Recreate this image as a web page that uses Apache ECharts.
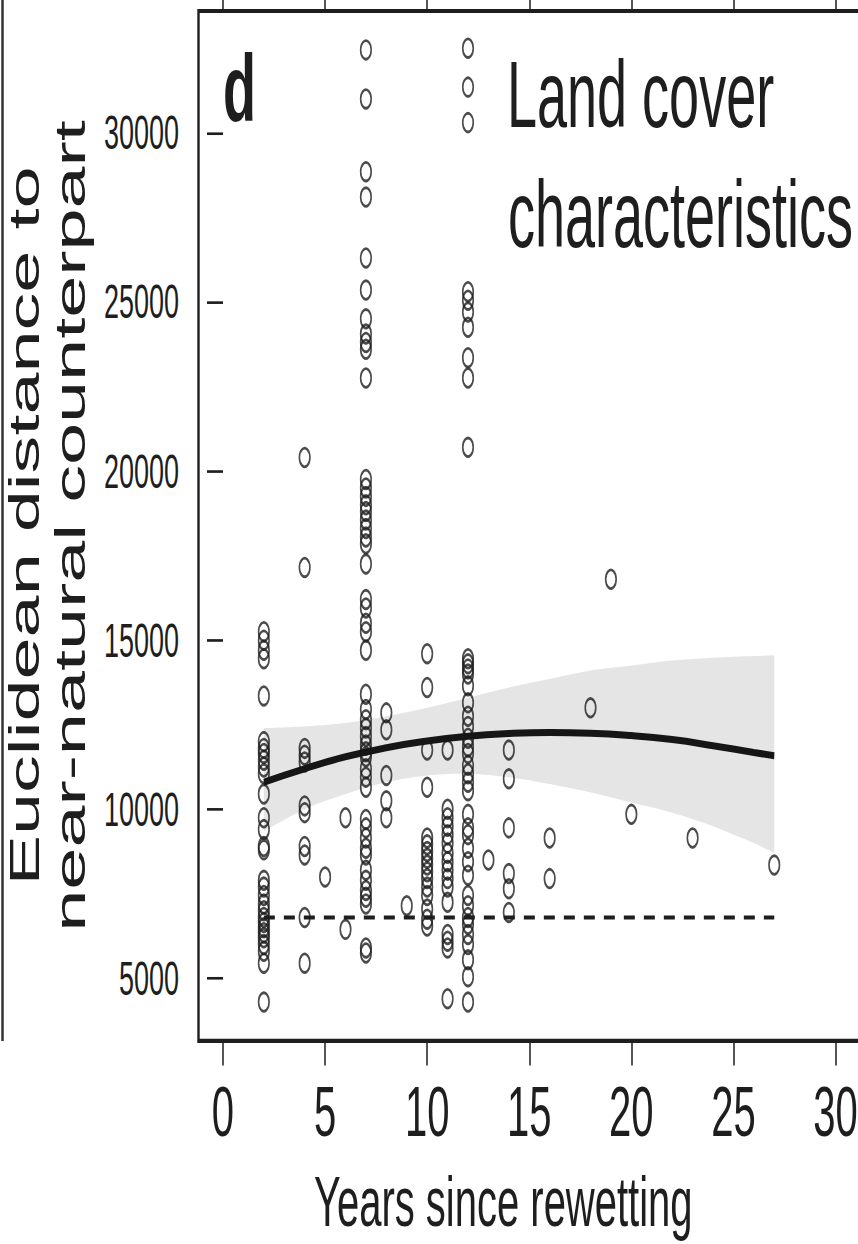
<!DOCTYPE html>
<html><head><meta charset="utf-8">
<script src="https://cdn.jsdelivr.net/npm/echarts@6/dist/echarts.min.js"></script>
<style>
html,body{margin:0;padding:0;background:#fff;overflow:hidden;width:858px;height:1244px;}
#wrap{width:858px;height:1244px;overflow:hidden;position:relative;background:#fff;}
#chart{width:858px;height:707px;transform:scaleY(1.7595);transform-origin:0 0;position:absolute;left:0;top:0;}
</style></head><body>
<div id="wrap"><div id="chart"></div></div>
<script>
// ---------- data ----------
const xTicks = [0, 5, 10, 15, 20, 25, 30];
const yTicks = [5000, 10000, 15000, 20000, 25000, 30000];

const pointYears = [2, 4, 5, 6, 7, 8, 9, 10, 11, 12, 13, 14, 16, 18, 19, 20, 23, 27];
const pointValues = [
  [15250, 15000, 14700, 14450, 13350, 12000, 11800, 11650, 11450, 11250, 11050, 10450, 9750, 9400, 8900, 8800, 7900, 7700, 7450, 7200, 7000, 6800, 6650, 6500, 6350, 6200, 6000, 5800, 5450, 4300],
  [20400, 17150, 11800, 11600, 11400, 10100, 9900, 8900, 8650, 6800, 5450],
  [8000],
  [9750, 6450],
  [32450, 31000, 28850, 28100, 26300, 25350, 24500, 24050, 23800, 23600, 22750, 19750, 19500, 19250, 19000, 18800, 18550, 18300, 18050, 17850, 17250, 16200, 15950, 15500, 15250, 14700, 13400, 12950, 12650, 12400, 12150, 11900, 11700, 11550, 11200, 10950, 10650, 9700, 9450, 9150, 8850, 8650, 8200, 7900, 7600, 7400, 7200, 5900, 5750],
  [12850, 12350, 11000, 10250, 9750],
  [7150],
  [14600, 13600, 11750, 10650, 9150, 8950, 8750, 8550, 8350, 8150, 7950, 7700, 7450, 7050, 6750, 6550],
  [11750, 10000, 9750, 9500, 9250, 9000, 8700, 8450, 8200, 7950, 7700, 7250, 6300, 6100, 5900, 4400],
  [32500, 31350, 30300, 25300, 25050, 24700, 24250, 23350, 22750, 20700, 14450, 14300, 14150, 14000, 13650, 13150, 12750, 12450, 12100, 11850, 11650, 11300, 11050, 10800, 10550, 9850, 9450, 9250, 8850, 8450, 8050, 7450, 7150, 6800, 6600, 6300, 6000, 5550, 5050, 4300],
  [8500],
  [11750, 10900, 9450, 8100, 7650, 6950],
  [9150, 7950],
  [13000],
  [16800],
  [9850],
  [9150],
  [8350]
];

const fitYears  = [2, 4, 6, 8, 10, 12, 14, 16, 18, 20, 22, 24, 26, 27];
const fitValues = [10800, 11200, 11550, 11820, 12020, 12160, 12240, 12270, 12250, 12180, 12060, 11880, 11680, 11580];
const bandUpper = [12400, 12450, 12550, 12750, 13000, 13300, 13600, 13850, 14100, 14250, 14400, 14480, 14530, 14550];
const bandLower = [9350, 10000, 10450, 10800, 11000, 11050, 10950, 10750, 10500, 10200, 9900, 9500, 9000, 8700];

const refYears = [2, 27];
const refValue = 6800;

const xName = 'Years since rewetting';
const yName = 'Euclidean distance to\nnear-natural counterpart';
const panelLetter = 'd';
const panelTitle = ['Land cover', 'characteristics'];

// ---------- build ----------
const S = 1244 / 707;             // vertical stretch of the page
const py = v => v / S;            // reference pixel y -> chart pixel y
const FONT = '"Liberation Sans", Arial, sans-serif';
const INK = '#1e1e1e';

const scatterData = [];
pointYears.forEach((yr, i) => pointValues[i].forEach(v => scatterData.push([yr, v])));

const bandData = fitYears.map((x, i) => [x, bandLower[i], bandUpper[i]]);

// smooth (Catmull-Rom) path through screen points, continuing an open path
function smoothSeg(pts) {
  let d = '';
  for (let i = 0; i < pts.length - 1; i++) {
    const p0 = pts[Math.max(i - 1, 0)], p1 = pts[i], p2 = pts[i + 1], p3 = pts[Math.min(i + 2, pts.length - 1)];
    const c1 = [p1[0] + (p2[0] - p0[0]) / 6, p1[1] + (p2[1] - p0[1]) / 6];
    const c2 = [p2[0] - (p3[0] - p1[0]) / 6, p2[1] - (p3[1] - p1[1]) / 6];
    d += ' C' + c1[0] + ' ' + c1[1] + ' ' + c2[0] + ' ' + c2[1] + ' ' + p2[0] + ' ' + p2[1];
  }
  return d;
}

const chart = echarts.init(document.getElementById('chart'), null, {renderer: 'svg', width: 858, height: 707});

chart.setOption({
  animation: false,
  backgroundColor: '#fff',
  grid: {
    left: 198.5, top: py(11), width: 661.5, height: py(1041) - py(11),
    outerBoundsMode: 'none', containLabel: false,
    show: true, borderColor: INK, borderWidth: 2.4, backgroundColor: 'transparent'
  },
  xAxis: [{
    type: 'value', min: -1.2, max: 31.2, position: 'bottom',
    axisLine: {show: false}, splitLine: {show: false},
    axisTick: {show: true, customValues: xTicks, length: 14, lineStyle: {color: INK, width: 1.5}},
    axisLabel: {customValues: xTicks, fontSize: 40, color: INK, fontFamily: FONT, margin: 20},
    name: xName, nameLocation: 'middle', nameGap: 71,
    nameTextStyle: {fontSize: 40, color: INK, fontFamily: FONT, padding: [0, 52, 0, 0]}
  }, {
    type: 'value', min: -1.2, max: 31.2, position: 'top',
    axisLine: {show: false}, splitLine: {show: false},
    axisTick: {show: true, customValues: xTicks, length: 8, lineStyle: {color: INK, width: 1.5}},
    axisLabel: {show: false}
  }],
  yAxis: {
    type: 'value', min: 3150, max: 33600,
    axisLine: {show: false}, splitLine: {show: false},
    axisTick: {show: true, customValues: yTicks, length: 16, lineStyle: {color: INK, width: 1.5}},
    axisLabel: {customValues: yTicks, fontSize: 27, color: INK, fontFamily: FONT, margin: 19.5,
                formatter: v => String(v)},
    name: yName, nameLocation: 'middle', nameRotate: 90, nameGap: 98,
    nameTextStyle: {fontSize: 43, lineHeight: 46, color: INK, fontFamily: FONT}
  },
  graphic: [
    {type: 'line', shape: {x1: 2.5, y1: 0, x2: 2.5, y2: py(1041)}, style: {stroke: '#333', lineWidth: 2.5}, silent: true},
    {type: 'text', x: 223, y: py(87.5), silent: true,
     style: {text: panelLetter, fontSize: 54, fontWeight: 'bold', fontFamily: FONT, fill: INK,
             align: 'left', verticalAlign: 'middle', textAlign: 'left', textVerticalAlign: 'middle'}},
    {type: 'text', x: 507, y: py(94), silent: true,
     style: {text: panelTitle[0], fontSize: 54, fontFamily: FONT, fill: INK,
             align: 'left', verticalAlign: 'middle', textAlign: 'left', textVerticalAlign: 'middle'}},
    {type: 'text', x: 508, y: py(214), silent: true,
     style: {text: panelTitle[1], fontSize: 54, fontFamily: FONT, fill: INK,
             align: 'left', verticalAlign: 'middle', textAlign: 'left', textVerticalAlign: 'middle'}}
  ],
  series: [
    {
      type: 'custom', name: 'ci-band', silent: true, z: 1,
      data: bandData,
      encode: {x: 0, y: [1, 2]},
      renderItem: function (params, api) {
        if (params.dataIndex !== 0) return null;
        const upper = bandData.map(d => api.coord([d[0], d[2]]));
        const lower = bandData.map(d => api.coord([d[0], d[1]])).reverse();
        const path = 'M' + upper[0][0] + ' ' + upper[0][1] + smoothSeg(upper) +
                     ' L' + lower[0][0] + ' ' + lower[0][1] + smoothSeg(lower) + ' Z';
        return {
          type: 'path',
          shape: {pathData: path},
          style: {fill: '#e5e5e5', stroke: 'none'}
        };
      }
    },
    {
      type: 'line', name: 'reference', symbol: 'none', silent: true, z: 3,
      data: refYears.map(x => [x, refValue]),
      lineStyle: {color: INK, width: 2.2, type: [11, 9]}
    },
    {
      type: 'scatter', name: 'sites', z: 4,
      data: scatterData, symbol: 'circle', symbolSize: 10.5,
      itemStyle: {color: 'rgba(0,0,0,0)', borderColor: INK, borderWidth: 1.6}
    },
    {
      type: 'line', name: 'fit', symbol: 'none', silent: true, z: 5, smooth: true,
      data: fitYears.map((x, i) => [x, fitValues[i]]),
      lineStyle: {color: '#161616', width: 4}
    }
  ]
});
</script>
</body></html>
